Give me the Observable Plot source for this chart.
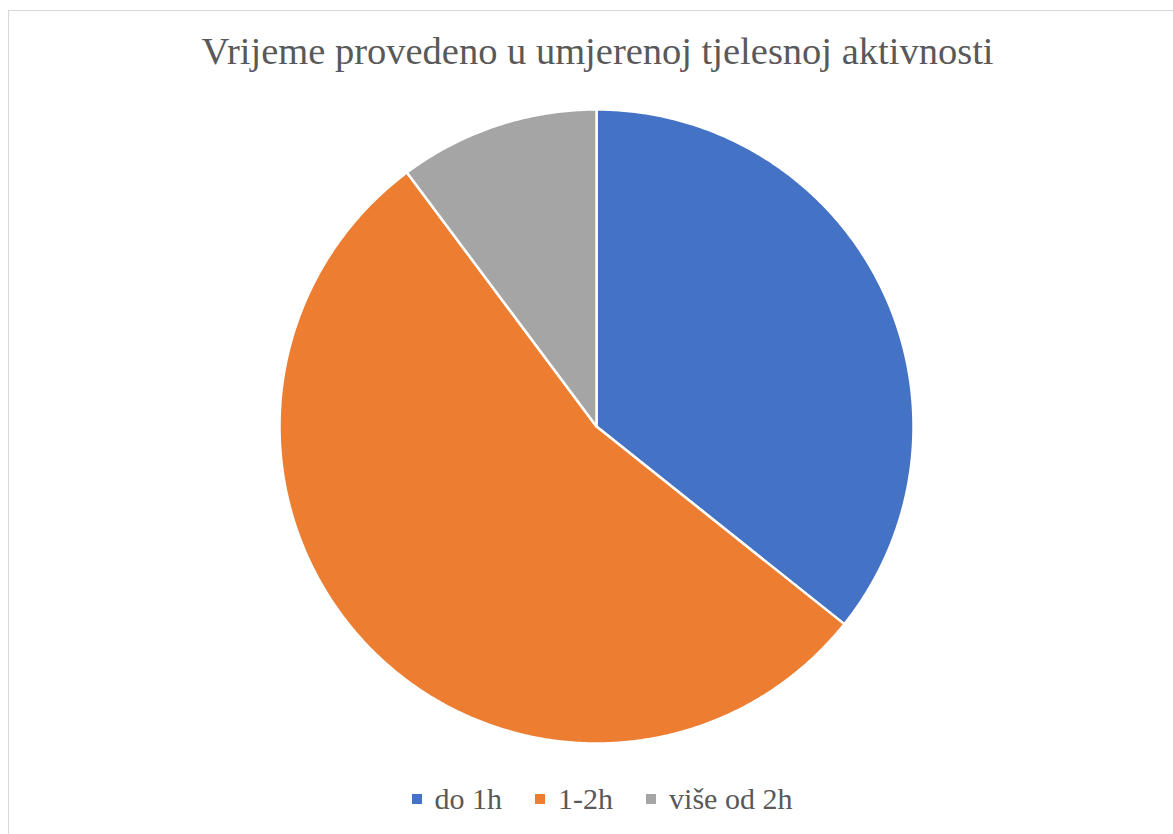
<!DOCTYPE html>
<html>
<head>
<meta charset="utf-8">
<script src="https://cdn.jsdelivr.net/npm/d3@7"></script>
<script src="https://cdn.jsdelivr.net/npm/@observablehq/plot@0.6"></script>
<style>
  html, body { margin: 0; padding: 0; background: #fff; overflow: hidden; }
  body { width: 1173px; height: 834px; position: relative; }
  #frame { position: absolute; left: 8px; top: 10px; width: 1200px; height: 900px; border: 1px solid #d9d9d9; box-sizing: border-box; }
  #title { position: relative; height: 88px; box-sizing: border-box; padding-top: 32px; padding-left: 22px; text-align: center;
           font-family: "Liberation Serif", "Times New Roman", serif; color: #595959; font-size: 38.5px; line-height: 1; white-space: nowrap; }
  #chart svg { display: block; }
  #legend { position: relative; display: flex; justify-content: center; align-items: center; gap: 33px; margin-top: 16px; padding-left: 31px;
            font-family: "Liberation Serif", "Times New Roman", serif; color: #595959; font-size: 30px; line-height: 1; }
  .item { display: flex; align-items: center; }
  .sw { display: inline-block; width: 10px; height: 10px; margin-right: 13px; }
</style>
</head>
<body>
<div id="frame"></div>
<div id="title"></div>
<div id="chart"></div>
<div id="legend"></div>
<script>
const title = "Vrijeme provedeno u umjerenoj tjelesnoj aktivnosti";
const categories = ["do 1h", "1-2h", "više od 2h"];
const values = [35, 53, 10];
const colors = ["#4472C4", "#ED7D31", "#A5A5A5"];

document.getElementById("title").textContent = title;

// layout
const W = 1173, H = 680, cx = 596, cy = 338, R = 317;

const pie = d3.pie().sort(null).value(d => d.value).startAngle(0).endAngle(2 * Math.PI);
const arcs = pie(categories.map((c, i) => ({category: c, value: values[i]})));

// polygon vertices (unit circle) for each slice
const pts = [];
for (const a of arcs) {
  const cat = a.data.category;
  pts.push({category: cat, x: 0, y: 0});
  const n = Math.max(8, Math.ceil((a.endAngle - a.startAngle) / (Math.PI / 360)));
  for (let k = 0; k <= n; k++) {
    const t = a.startAngle + (a.endAngle - a.startAngle) * k / n;
    pts.push({category: cat, x: Math.sin(t), y: Math.cos(t)});
  }
}

const plot = Plot.plot({
  width: W,
  height: H,
  margin: 0,
  x: {domain: [-cx / R, (W - cx) / R], axis: null},
  y: {domain: [-(H - cy) / R, cy / R], axis: null},
  color: {domain: categories, range: colors},
  marks: [
    Plot.line(pts, {
      x: "x", y: "y", z: "category",
      fill: "category",
      stroke: "white",
      strokeWidth: 2.5,
      strokeLinejoin: "round",
      curve: "linear-closed"
    })
  ]
});
document.getElementById("chart").appendChild(plot);

const legend = document.getElementById("legend");
categories.forEach((c, i) => {
  const item = document.createElement("div");
  item.className = "item";
  const sw = document.createElement("span");
  sw.className = "sw";
  sw.style.background = colors[i];
  const tx = document.createElement("span");
  tx.textContent = c;
  item.appendChild(sw);
  item.appendChild(tx);
  legend.appendChild(item);
});
</script>
</body>
</html>
